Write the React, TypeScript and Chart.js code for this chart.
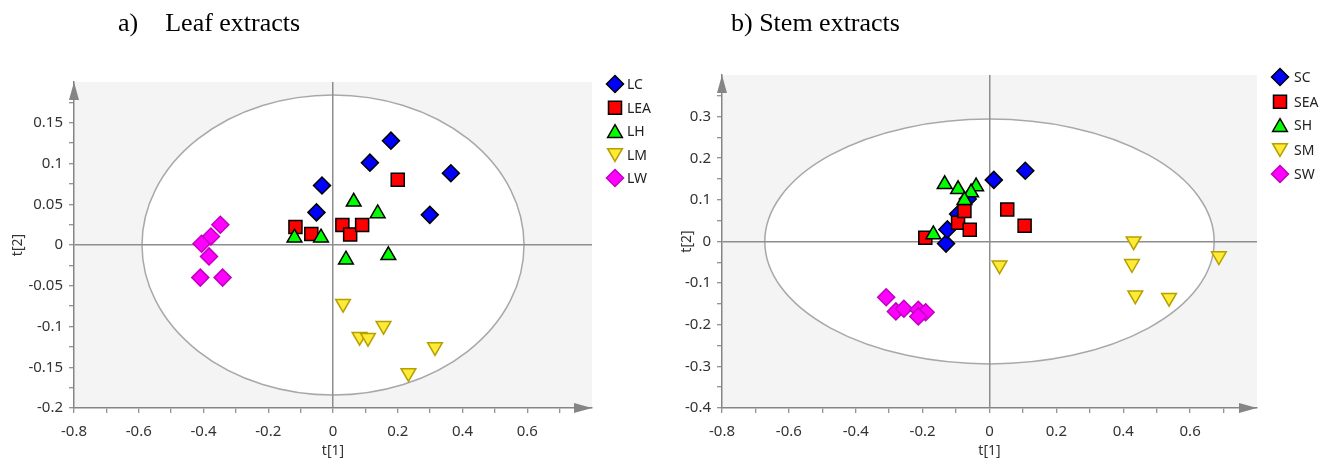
import React, { useEffect, useRef } from 'react';
import { Chart, registerables } from 'chart.js';

Chart.register(...registerables);

const FONT = "'Noto Sans', 'Open Sans', sans-serif";

// ---------- Leaf extracts (panel a) ----------
const LEAF_NAMES = ['LC', 'LEA', 'LH', 'LM', 'LW'];
const LC = [[-0.034, 0.073], [-0.051, 0.040], [0.179, 0.128], [0.114, 0.101], [0.364, 0.088], [0.299, 0.037]];
const LEA = [[-0.116, 0.022], [-0.067, 0.0135], [0.029, 0.0245], [0.053, 0.013], [0.090, 0.0245], [0.200, 0.080]];
const LH = [[-0.119, 0.009], [-0.037, 0.009], [0.040, -0.018], [0.064, 0.053], [0.138, 0.0387], [0.171, -0.0127]];
const LM = [[0.031, -0.072], [0.082, -0.1125], [0.108, -0.1138], [0.156, -0.099], [0.315, -0.125], [0.233, -0.157]];
const LW = [[-0.348, 0.0248], [-0.377, 0.0105], [-0.406, 0.0016], [-0.383, -0.014], [-0.410, -0.040], [-0.341, -0.040]];

// ---------- Stem extracts (panel b) ----------
const STEM_NAMES = ['SC', 'SEA', 'SH', 'SM', 'SW'];
const SC = [[0.013, 0.148], [0.107, 0.170], [-0.130, -0.005], [-0.126, 0.029], [-0.094, 0.066], [-0.065, 0.102]];
const SEA = [[-0.192, 0.009], [-0.094, 0.045], [-0.059, 0.028], [-0.075, 0.073], [0.053, 0.077], [0.105, 0.038]];
const SH = [[-0.134, 0.1375], [-0.094, 0.1255], [-0.040, 0.132], [-0.055, 0.1176], [-0.075, 0.099], [-0.168, 0.017]];
const SM = [[0.431, 0.0007], [0.030, -0.057], [0.426, -0.0535], [0.436, -0.129], [0.537, -0.135], [0.686, -0.035]];
const SW = [[-0.309, -0.134], [-0.280, -0.168], [-0.256, -0.1616], [-0.213, -0.164], [-0.191, -0.170], [-0.213, -0.180]];

// ---------- Ticks ----------
const X_TICKS = [-0.8, -0.7, -0.6, -0.5, -0.4, -0.3, -0.2, -0.1, 0, 0.1, 0.2, 0.3, 0.4, 0.5, 0.6, 0.7];
const X_LABELS = ['-0.8', '', '-0.6', '', '-0.4', '', '-0.2', '', '0', '', '0.2', '', '0.4', '', '0.6', ''];
const LEAF_Y_TICKS = [-0.2, -0.175, -0.15, -0.125, -0.1, -0.075, -0.05, -0.025, 0, 0.025, 0.05, 0.075, 0.1, 0.125, 0.15, 0.175];
const LEAF_Y_LABELS = ['-0.2', '', '-0.15', '', '-0.1', '', '-0.05', '', '0', '', '0.05', '', '0.1', '', '0.15', ''];
const STEM_Y_TICKS = [-0.4, -0.35, -0.3, -0.25, -0.2, -0.15, -0.1, -0.05, 0, 0.05, 0.1, 0.15, 0.2, 0.25, 0.3, 0.35];
const STEM_Y_LABELS = ['-0.4', '', '-0.3', '', '-0.2', '', '-0.1', '', '0', '', '0.1', '', '0.2', '', '0.3', ''];

const SHAPES = ['diamond', 'square', 'triangle', 'down', 'diamond'];
const FILLS = ['#0000ff', '#ff0000', '#00ff00', '#ffeb36', '#ff00ff'];
const BORDERS = ['#000000', '#000000', '#000000', '#b5a000', '#c000c0'];

type Panel = {
  names: string[];
  series: number[][][];
  yMin: number;
  yMax: number;
  yTicks: number[];
  yLabels: string[];
  yWidth: number;
  padTop: number;
  padRight: number;
  ellA: number;
  ellB: number;
  legendX: number;
  legendTextX: number;
  legendYs: number[];
  yTitlePad: number;
};

const LEAF: Panel = {
  names: LEAF_NAMES,
  series: [LC, LEA, LH, LM, LW],
  yMin: -0.2,
  yMax: 0.2,
  yTicks: LEAF_Y_TICKS,
  yLabels: LEAF_Y_LABELS,
  yWidth: 74,
  padTop: 82,
  padRight: 68,
  ellA: 0.59,
  ellB: 0.184,
  legendX: 615,
  legendTextX: 627,
  legendYs: [84, 107.7, 131, 155, 178],
  yTitlePad: 11,
};

const STEM: Panel = {
  names: STEM_NAMES,
  series: [SC, SEA, SH, SM, SW],
  yMin: -0.4,
  yMax: 0.4,
  yTicks: STEM_Y_TICKS,
  yLabels: STEM_Y_LABELS,
  yWidth: 62,
  padTop: 75,
  padRight: 63,
  ellA: 0.672,
  ellB: 0.294,
  legendX: 620,
  legendTextX: 634,
  legendYs: [77, 101.7, 125, 150, 174],
  yTitlePad: 20,
};

function styleFor(shape: string) {
  if (shape === 'diamond') return { pointStyle: 'rectRot', pointRadius: 8.5, pointRotation: 0 };
  if (shape === 'square') return { pointStyle: 'rect', pointRadius: 9.2, pointRotation: 0 };
  if (shape === 'triangle') return { pointStyle: 'triangle', pointRadius: 8.5, pointRotation: 0 };
  return { pointStyle: 'triangle', pointRadius: 8.5, pointRotation: 180 };
}

function drawMarker(ctx: CanvasRenderingContext2D, shape: string, x: number, y: number, fill: string, stroke: string) {
  const s120 = Math.sin((2 * Math.PI) / 3);
  ctx.beginPath();
  if (shape === 'diamond') {
    const r = 8.5;
    ctx.moveTo(x, y - r);
    ctx.lineTo(x + r, y);
    ctx.lineTo(x, y + r);
    ctx.lineTo(x - r, y);
  } else if (shape === 'square') {
    const s = 9.2 * Math.SQRT1_2;
    ctx.rect(x - s, y - s, 2 * s, 2 * s);
  } else if (shape === 'triangle') {
    const r = 8.5;
    const cy = y + r / 4;
    ctx.moveTo(x, cy - r);
    ctx.lineTo(x + r * s120, cy + r / 2);
    ctx.lineTo(x - r * s120, cy + r / 2);
  } else {
    const r = 8.5;
    const cy = y - r / 4;
    ctx.moveTo(x, cy + r);
    ctx.lineTo(x + r * s120, cy - r / 2);
    ctx.lineTo(x - r * s120, cy - r / 2);
  }
  ctx.closePath();
  ctx.fillStyle = fill;
  ctx.fill();
  ctx.lineWidth = 1.5;
  ctx.strokeStyle = stroke;
  ctx.stroke();
}

function makePlugin(p: Panel) {
  return {
    id: 'pcaDecor',
    beforeDraw(chart: any) {
      const { ctx, chartArea: a, scales } = chart;
      const xs = scales.x;
      const ys = scales.y;
      ctx.save();
      ctx.fillStyle = '#f4f4f4';
      ctx.fillRect(a.left, a.top, a.right - a.left, a.bottom - a.top);
      const cx = xs.getPixelForValue(0);
      const cy = ys.getPixelForValue(0);
      const rx = xs.getPixelForValue(p.ellA) - cx;
      const ry = cy - ys.getPixelForValue(p.ellB);
      ctx.beginPath();
      ctx.ellipse(cx, cy, rx, ry, 0, 0, Math.PI * 2);
      ctx.fillStyle = '#ffffff';
      ctx.fill();
      ctx.lineWidth = 1.5;
      ctx.strokeStyle = '#a8a8a8';
      ctx.stroke();
      ctx.restore();
    },
    afterDraw(chart: any) {
      const { ctx, chartArea: a } = chart;
      ctx.save();
      ctx.fillStyle = '#858585';
      // x arrow
      ctx.beginPath();
      ctx.moveTo(a.right, a.bottom);
      ctx.lineTo(a.right - 18, a.bottom - 5);
      ctx.lineTo(a.right - 18, a.bottom + 5);
      ctx.closePath();
      ctx.fill();
      // y arrow
      ctx.beginPath();
      ctx.moveTo(a.left, a.top);
      ctx.lineTo(a.left - 5, a.top + 18);
      ctx.lineTo(a.left + 5, a.top + 18);
      ctx.closePath();
      ctx.fill();
      // legend
      ctx.font = `14px ${FONT}`;
      ctx.textBaseline = 'middle';
      ctx.textAlign = 'left';
      p.names.forEach((n, i) => {
        const y = p.legendYs[i];
        drawMarker(ctx, SHAPES[i], p.legendX, y, FILLS[i], BORDERS[i]);
        ctx.fillStyle = '#222222';
        ctx.fillText(n, p.legendTextX, y + 1);
      });
      ctx.restore();
    },
  };
}

function buildConfig(p: Panel): any {
  const datasets = p.names.map((n, i) => ({
    label: n,
    data: p.series[i].map(([x, y]) => ({ x, y })),
    backgroundColor: FILLS[i],
    borderColor: BORDERS[i],
    pointBorderWidth: 1.5,
    showLine: false,
    order: 5 - i,
    ...styleFor(SHAPES[i]),
  }));
  const zeroColor = (c: any) => (c.tick && Math.abs(c.tick.value) < 1e-9 ? '#8e8e8e' : 'rgba(0,0,0,0)');
  return {
    type: 'scatter',
    data: { datasets },
    options: {
      animation: false,
      responsive: false,
      maintainAspectRatio: false,
      devicePixelRatio: 1,
      events: [],
      layout: { padding: { left: 0, right: p.padRight, top: p.padTop, bottom: 0 } },
      plugins: { legend: { display: false }, tooltip: { enabled: false }, title: { display: false } },
      scales: {
        x: {
          type: 'linear',
          min: -0.8,
          max: 0.8,
          afterFit: (s: any) => {
            s.height = 50;
          },
          afterBuildTicks: (s: any) => {
            s.ticks = X_TICKS.map((v) => ({ value: v }));
          },
          ticks: {
            autoSkip: false,
            maxRotation: 0,
            padding: 10,
            color: '#333333',
            font: { family: FONT, size: 15 },
            callback: (_v: any, i: number) => X_LABELS[i],
          },
          grid: {
            drawOnChartArea: true,
            color: zeroColor,
            lineWidth: 1.5,
            tickLength: 5,
            tickColor: '#707070',
            tickWidth: 1,
          },
          border: { display: true, color: '#858585', width: 1.5 },
          title: {
            display: true,
            text: 't[1]',
            color: '#333333',
            font: { family: FONT, size: 14, lineHeight: 1 },
            padding: { top: 0, bottom: 0 },
          },
        },
        y: {
          type: 'linear',
          min: p.yMin,
          max: p.yMax,
          afterFit: (s: any) => {
            s.width = p.yWidth;
          },
          afterBuildTicks: (s: any) => {
            s.ticks = p.yTicks.map((v) => ({ value: v }));
          },
          ticks: {
            autoSkip: false,
            padding: 6,
            color: '#333333',
            font: { family: FONT, size: 15 },
            callback: (_v: any, i: number) => p.yLabels[i],
          },
          grid: {
            drawOnChartArea: true,
            color: zeroColor,
            lineWidth: 1.5,
            tickLength: 5,
            tickColor: '#707070',
            tickWidth: 1,
          },
          border: { display: true, color: '#858585', width: 1.5 },
          title: {
            display: true,
            text: 't[2]',
            color: '#333333',
            font: { family: FONT, size: 14, lineHeight: 1 },
            padding: { top: p.yTitlePad, bottom: 0 },
          },
        },
      },
    },
    plugins: [makePlugin(p)],
  };
}

function PanelChart({ panel, left }: { panel: Panel; left: number }) {
  const ref = useRef<HTMLCanvasElement | null>(null);
  useEffect(() => {
    if (!ref.current) return;
    const chart = new Chart(ref.current, buildConfig(panel));
    return () => chart.destroy();
  }, [panel]);
  return (
    <canvas
      ref={ref}
      width={660}
      height={458}
      style={{ position: 'absolute', left, top: 0, width: 660, height: 458 }}
    />
  );
}

const titleStyle: React.CSSProperties = {
  position: 'absolute',
  top: 10,
  font: '26px/26px "Liberation Serif", "Times New Roman", serif',
  color: '#000',
  whiteSpace: 'pre',
};

export default function App() {
  return (
    <div
      style={{
        position: 'absolute',
        left: 0,
        top: 0,
        width: 1320,
        height: 458,
        background: '#ffffff',
        overflow: 'hidden',
      }}
    >
      <PanelChart panel={LEAF} left={0} />
      <PanelChart panel={STEM} left={660} />
      <div style={{ ...titleStyle, left: 118 }}>
        <span>a)</span>
        <span style={{ marginLeft: 27 }}>Leaf extracts</span>
      </div>
      <div style={{ ...titleStyle, left: 731 }}>b) Stem extracts</div>
    </div>
  );
}
